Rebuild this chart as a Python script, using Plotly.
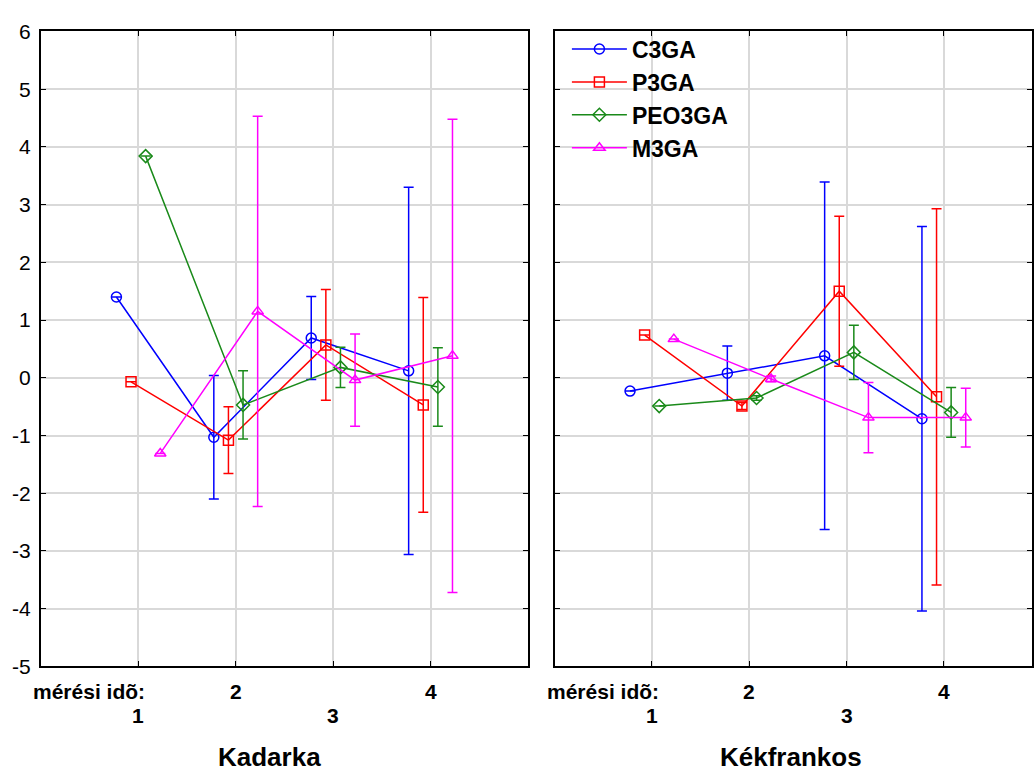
import plotly.graph_objects as go

# measurement times and series names
times = [1, 2, 3, 4]
series = ["C3GA", "P3GA", "PEO3GA", "M3GA"]
colors = ["#0000ff", "#ff0000", "#1a8a1a", "#ff00ff"]
symbols = ["circle-open", "square-open", "diamond-open", "triangle-up-open"]
offsets = [-0.225, -0.075, 0.075, 0.225]

# y-axis ticks (hyphen minus in labels)
y_ticks = [-5, -4, -3, -2, -1, 0, 1, 2, 3, 4, 5, 6]
y_ticktext = [str(v) for v in y_ticks]

# Kadarka: means and error half-widths
kad_C3GA = [1.40, -1.03, 0.69, 0.12]
kad_C3GA_err = [None, 1.07, 0.72, 3.18]
kad_P3GA = [-0.07, -1.08, 0.57, -0.47]
kad_P3GA_err = [None, 0.58, 0.96, 1.86]
kad_PEO3GA = [3.84, -0.47, 0.18, -0.16]
kad_PEO3GA_err = [None, 0.59, 0.35, 0.68]
kad_M3GA = [-1.31, 1.15, -0.04, 0.38]
kad_M3GA_err = [None, 3.38, 0.80, 4.10]

# Kékfrankos: means and error half-widths
kek_C3GA = [-0.23, 0.08, 0.38, -0.71]
kek_C3GA_err = [None, 0.47, 3.01, 3.33]
kek_P3GA = [0.74, -0.49, 1.50, -0.33]
kek_P3GA_err = [None, 0.06, 1.30, 3.26]
kek_PEO3GA = [-0.49, -0.35, 0.44, -0.60]
kek_PEO3GA_err = [None, 0.04, 0.47, 0.43]
kek_M3GA = [0.67, -0.02, -0.69, -0.69]
kek_M3GA_err = [None, 0.05, 0.61, 0.51]

panels = [
    ("x", "y", [kad_C3GA, kad_P3GA, kad_PEO3GA, kad_M3GA],
     [kad_C3GA_err, kad_P3GA_err, kad_PEO3GA_err, kad_M3GA_err]),
    ("x2", "y2", [kek_C3GA, kek_P3GA, kek_PEO3GA, kek_M3GA],
     [kek_C3GA_err, kek_P3GA_err, kek_PEO3GA_err, kek_M3GA_err]),
]

W, H = 1034, 781
FONT = "Arial, Liberation Sans, sans-serif"
fig = go.Figure()

for p, (xa, ya, vals, errs) in enumerate(panels):
    for i, name in enumerate(series):
        fig.add_trace(go.Scatter(
            x=[t + offsets[i] for t in times],
            y=vals[i],
            xaxis=xa, yaxis=ya,
            mode="lines+markers",
            name=name,
            showlegend=(p == 1),
            line=dict(color=colors[i], width=1.5),
            marker=dict(symbol=symbols[i], size=10, color=colors[i],
                        line=dict(width=1.5, color=colors[i])),
            error_y=dict(type="data", array=errs[i], visible=True,
                         color=colors[i], thickness=1.5, width=5),
        ))

y_dom = [1 - 674.3 / H, 1 - 20 / H]
axis_common = dict(
    showline=True, linecolor="black", linewidth=2, mirror="allticks",
    ticks="inside", ticklen=5, tickcolor="black", tickwidth=1.2,
    showgrid=True, gridcolor="#d9d9d9", gridwidth=1.5, zeroline=False,
)

fig.update_layout(
    width=W, height=H, autosize=False,
    margin=dict(l=0, r=0, t=0, b=0),
    paper_bgcolor="white", plot_bgcolor="white",
    font=dict(family=FONT, color="black"),
    xaxis=dict(domain=[41 / W, 529 / W], range=[0, 5], tickvals=times,
               showticklabels=False, **axis_common),
    yaxis=dict(domain=y_dom, range=[-5, 6], tickvals=y_ticks,
               ticktext=y_ticktext, ticklabelstandoff=4,
               tickfont=dict(size=21), **axis_common),
    xaxis2=dict(domain=[555.7 / W, 1.0], range=[0, 4.906], tickvals=times,
                showticklabels=False, anchor="y2", **axis_common),
    yaxis2=dict(domain=y_dom, range=[-5, 6], tickvals=y_ticks, anchor="x2",
                showticklabels=False, **axis_common),
    legend=dict(x=568 / W, y=1 - 16 / H, xanchor="left", yanchor="top",
                bgcolor="rgba(0,0,0,0)", borderwidth=0,
                font=dict(size=23, family=FONT, weight="bold"),
                itemwidth=55, tracegroupgap=0),
)

# staggered category labels under each panel
annots = []
for xa, title, tx in [("x", "Kadarka", 270), ("x2", "Kékfrankos", 793)]:
    annots.append(dict(xref=xa, yref="paper", x=1.09, y=1 - 700 / H,
                       text="<b>mérési idõ:</b>", showarrow=False,
                       xanchor="right", yanchor="middle", font=dict(size=21)))
    for t in times:
        row_y = 700 if t % 2 == 0 else 725
        annots.append(dict(xref=xa, yref="paper", x=t, y=1 - row_y / H,
                           text=f"<b>{t}</b>", showarrow=False,
                           xanchor="center", yanchor="middle", font=dict(size=21)))
    annots.append(dict(xref="paper", yref="paper", x=tx / W, y=1 - 768 / H,
                       text=f"<b>{title}</b>", showarrow=False,
                       xanchor="center", yanchor="middle", font=dict(size=26)))
fig.update_layout(annotations=annots)

fig.write_html("out.html")
